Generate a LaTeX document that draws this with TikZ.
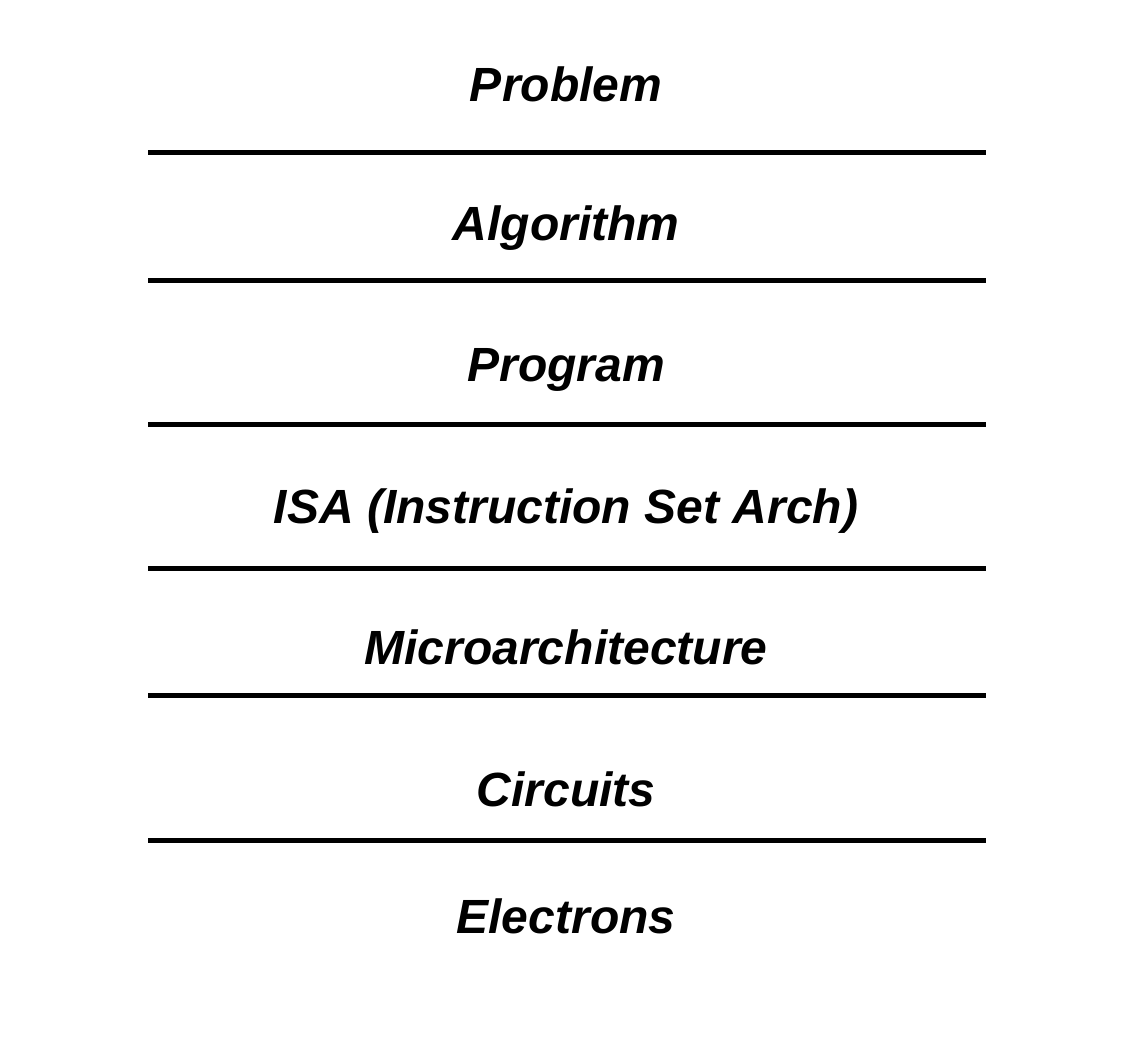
\documentclass[tikz,border=0pt]{standalone}
\usepackage{fontspec}
\setmainfont{Liberation Sans}
\begin{document}
\begin{tikzpicture}[x=1pt,y=-1pt,
  lvl/.style={anchor=base,inner sep=0pt,font=\fontsize{48}{56}\selectfont\bfseries\itshape},
  sep/.style={line width=5pt}]
\useasboundingbox (0,0) rectangle (1134,1042);
\node[lvl] (problem) at (566,101) {Problem};
\node[lvl] (algorithm) at (566,240) {Algorithm};
\node[lvl] (program) at (566,381) {Program};
\node[lvl] (isa) at (566,523) {ISA (Instruction Set Arch)};
\node[lvl] (micro) at (566,664) {Microarchitecture};
\node[lvl] (circuits) at (566,806) {Circuits};
\node[lvl] (electrons) at (566,933) {Electrons};
\foreach \y in {152,280,424,568,695,840}
  \draw[sep] (148,\y) -- (986,\y);
\end{tikzpicture}
\end{document}
